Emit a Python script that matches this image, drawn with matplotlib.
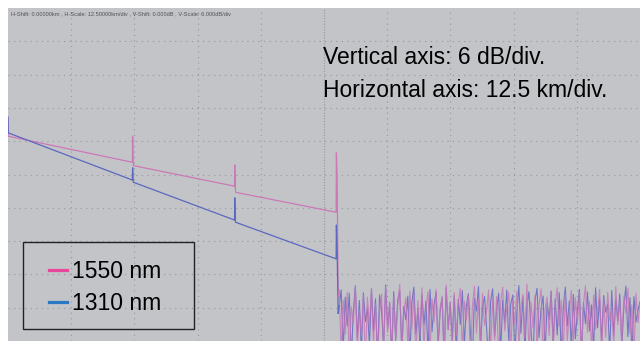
import numpy as np
import matplotlib
matplotlib.use("Agg")
import matplotlib.pyplot as plt
from matplotlib.lines import Line2D

# trace breakpoints (km, dB)
km_1550 = [0.0, 0.05, 24.6, 24.65, 24.75, 24.8, 44.8, 44.85, 44.95, 45.0, 64.9, 64.95, 65.1, 65.3]
db_1550 = [40.0, 36.9, 32.2, 36.9, 33.0, 31.6, 27.9, 31.7, 28.0, 26.8, 23.2, 33.9, 29.0, 8.0]

km_1310 = [0.0, 0.05, 24.6, 24.65, 24.75, 24.8, 44.8, 44.85, 44.95, 45.0, 64.9, 64.95, 65.1, 65.3]
db_1310 = [40.4, 37.5, 29.0, 31.2, 29.2, 28.6, 21.8, 25.8, 22.0, 21.4, 14.8, 20.9, 16.0, 5.0]

# noise floor past the fibre end
noise_1550 = [
    9.1, -2.3, 7.4, 1.2, 8.8, -3.5, 6.2, 3.1, 10.0, -1.4, 5.6, 0.8, 8.2, -4.0, 7.9, 2.5, 9.4, -0.6, 6.7, -2.9,
    4.9, 8.5, -1.8, 9.8, 1.6, 7.1, -3.2, 8.0, 0.4, 6.5, 10.2, -2.1, 5.3, 7.8, -0.9, 9.0, 2.2, 8.4, -3.8, 7.3,
    1.1, 9.6, -1.2, 6.0, 8.9, -2.6, 7.6, 3.4, 9.3, -0.3, 5.9, 8.1, -3.0, 10.1, 2.0, 7.0, -1.6, 8.7, 0.9, 6.8,
    9.5, -2.4, 7.2, 3.7, 8.3, -4.2, 6.4, 9.9, 1.4, 7.7, -0.7, 8.6, 2.8, 5.4, 9.2, -1.9, 7.5, 0.2, 8.0, -3.3,
    6.9, 9.7, 1.8, 5.8, 8.8, -2.0, 7.3, 3.0, 9.0, -1.1, 6.1, 8.4, 0.6, 10.3, -2.7, 7.0, 2.4, 8.2, -0.4, 6.6,
    9.4, -3.6, 5.7, 7.9, 1.0, 8.9, -1.5, 6.3, 9.6, 2.6, 7.4, -2.2, 8.5, 0.0, 5.5, 9.1, -0.8, 7.8, 3.2, 8.7,
    -3.1, 6.7, 10.0, 1.5, 7.1, -1.7, 8.3, 2.1, 5.2, 9.3, -2.5, 7.6, 0.7, 8.8, 3.6, 6.2, -1.0, 9.8, 2.9, 7.2,
    -0.2, 8.1, 5.0, 9.5, 1.3, 6.5, -2.8, 8.6, 3.3, 7.0,
]
noise_1310 = [
    6.3, 9.2, -1.7, 7.9, 2.7, 8.6, -3.4, 5.1, 9.9, 0.5, 7.3, -2.0, 8.7, 3.5, 6.0, -0.9, 9.4, 1.9, 7.6, -3.9,
    8.3, 5.6, -1.3, 10.1, 2.3, 6.8, -2.8, 8.9, 0.1, 7.4, 9.0, -1.6, 6.2, 3.8, 8.1, -3.1, 7.0, 9.7, 1.2, 5.9,
    -0.5, 8.4, 2.9, 7.2, -2.4, 9.3, 1.7, 6.6, 8.8, -1.0, 5.3, 7.8, -3.7, 9.6, 2.1, 6.9, 0.3, 8.2, -2.2, 7.5,
    3.0, 9.1, -0.8, 6.4, 8.5, 1.6, -2.9, 7.7, 5.4, 9.8, -1.4, 6.1, 8.0, 2.5, -3.3, 7.1, 9.4, 0.9, 5.7, 8.6,
    -1.9, 7.3, 3.3, 9.2, -0.1, 6.7, 8.3, -2.6, 5.0, 10.0, 1.4, 7.9, -1.2, 6.3, 8.9, 2.0, -3.5, 7.4, 9.5, 0.6,
    5.8, 8.1, -2.1, 6.8, 3.9, 9.0, -0.6, 7.6, 1.1, 8.7, -2.7, 6.0, 9.7, 2.7, 7.2, -1.5, 8.4, 0.4, 5.5, 9.3,
    -3.0, 7.0, 3.1, 8.8, 1.8, 6.5, -1.8, 9.6, 2.4, 7.7, -0.3, 8.2, 5.2, 6.6, -2.3, 9.1, 1.0, 7.5, 3.6, 8.5,
    -1.1, 6.2, 9.9, 0.8, 7.8, -2.5, 8.0, 3.4, 5.6, 7.1,
]

labels = ["1550 nm", "1310 nm"]
header = "H-Shift: 0.00000km , H-Scale: 12.50000km/div , V-Shift: 0.000dB , V-Scale: 6.000dB/div"

h_div = 12.5
v_div = 6.0

fig = plt.figure(figsize=(6.4, 3.41), dpi=100, facecolor="white")
ax = fig.add_axes([8 / 640, 0, 632 / 640, 333 / 341])
ax.set_facecolor("#c3c4c8")
ax.set_xlim(0, 10 * h_div)
ax.set_ylim(0, 10 * v_div)
for s in ax.spines.values():
    s.set_visible(False)
ax.set_xticks([])
ax.set_yticks([])

# dotted screen grid
for i in range(1, 10):
    ls = (0, (1, 1.5)) if i == 5 else (0, (1, 4))
    ax.axvline(i * h_div, color="#96979c", lw=0.8, ls=ls, zorder=1)
    ax.axhline(i * v_div, color="#96979c", lw=0.8, ls=(0, (1, 4)), zorder=1)

noise_km = np.linspace(65.5, 10 * h_div, len(noise_1550))
ax.plot(noise_km, noise_1310, color="#6668c4", lw=0.8, alpha=0.85, zorder=2)
ax.plot(noise_km, noise_1550, color="#c874b8", lw=0.8, alpha=0.8, zorder=2)

ax.plot(km_1550, db_1550, color="#cc78b6", lw=0.9, zorder=3)
ax.plot(km_1310, db_1310, color="#5a68c0", lw=0.9, zorder=3)
ax.plot([km_1310[-1], noise_km[0]], [db_1310[-1], noise_1310[0]], color="#5a68c0", lw=0.9, zorder=3)
ax.plot([km_1550[-1], noise_km[0]], [db_1550[-1], noise_1550[0]], color="#cc78b6", lw=0.9, zorder=3)

fig.text(11 / 640, 1 - 14 / 341, header, fontsize=4.1, color="#505055",
         va="center", ha="left", family="Liberation Sans")

ax.text((323 - 8) / 632, (341 - 64) / 333, "Vertical axis: 6 dB/div.",
        transform=ax.transAxes, fontsize=16.5, family="Liberation Sans", va="baseline")
ax.text((323 - 8) / 632, (341 - 97) / 333, "Horizontal axis: 12.5 km/div.",
        transform=ax.transAxes, fontsize=16.5, family="Liberation Sans", va="baseline")

# legend box
box = plt.Rectangle(((23 - 8) / 632, (341 - 329) / 333), 171 / 632, 87 / 333,
                    transform=ax.transAxes, fill=False, edgecolor="#222222", lw=1.0, zorder=5)
ax.add_patch(box)
handles = [Line2D([], [], color="#e8489a", lw=2.3), Line2D([], [], color="#2a78c2", lw=2.3)]
ax.legend(handles, labels, loc="center", bbox_to_anchor=((105 - 8) / 632, (341 - 287.5) / 333),
          frameon=False, handlelength=0.8, handletextpad=0.2,
          labelspacing=0.38, prop={"family": "Liberation Sans", "size": 16.5})

fig.savefig("out.png", dpi=100, facecolor="white")
